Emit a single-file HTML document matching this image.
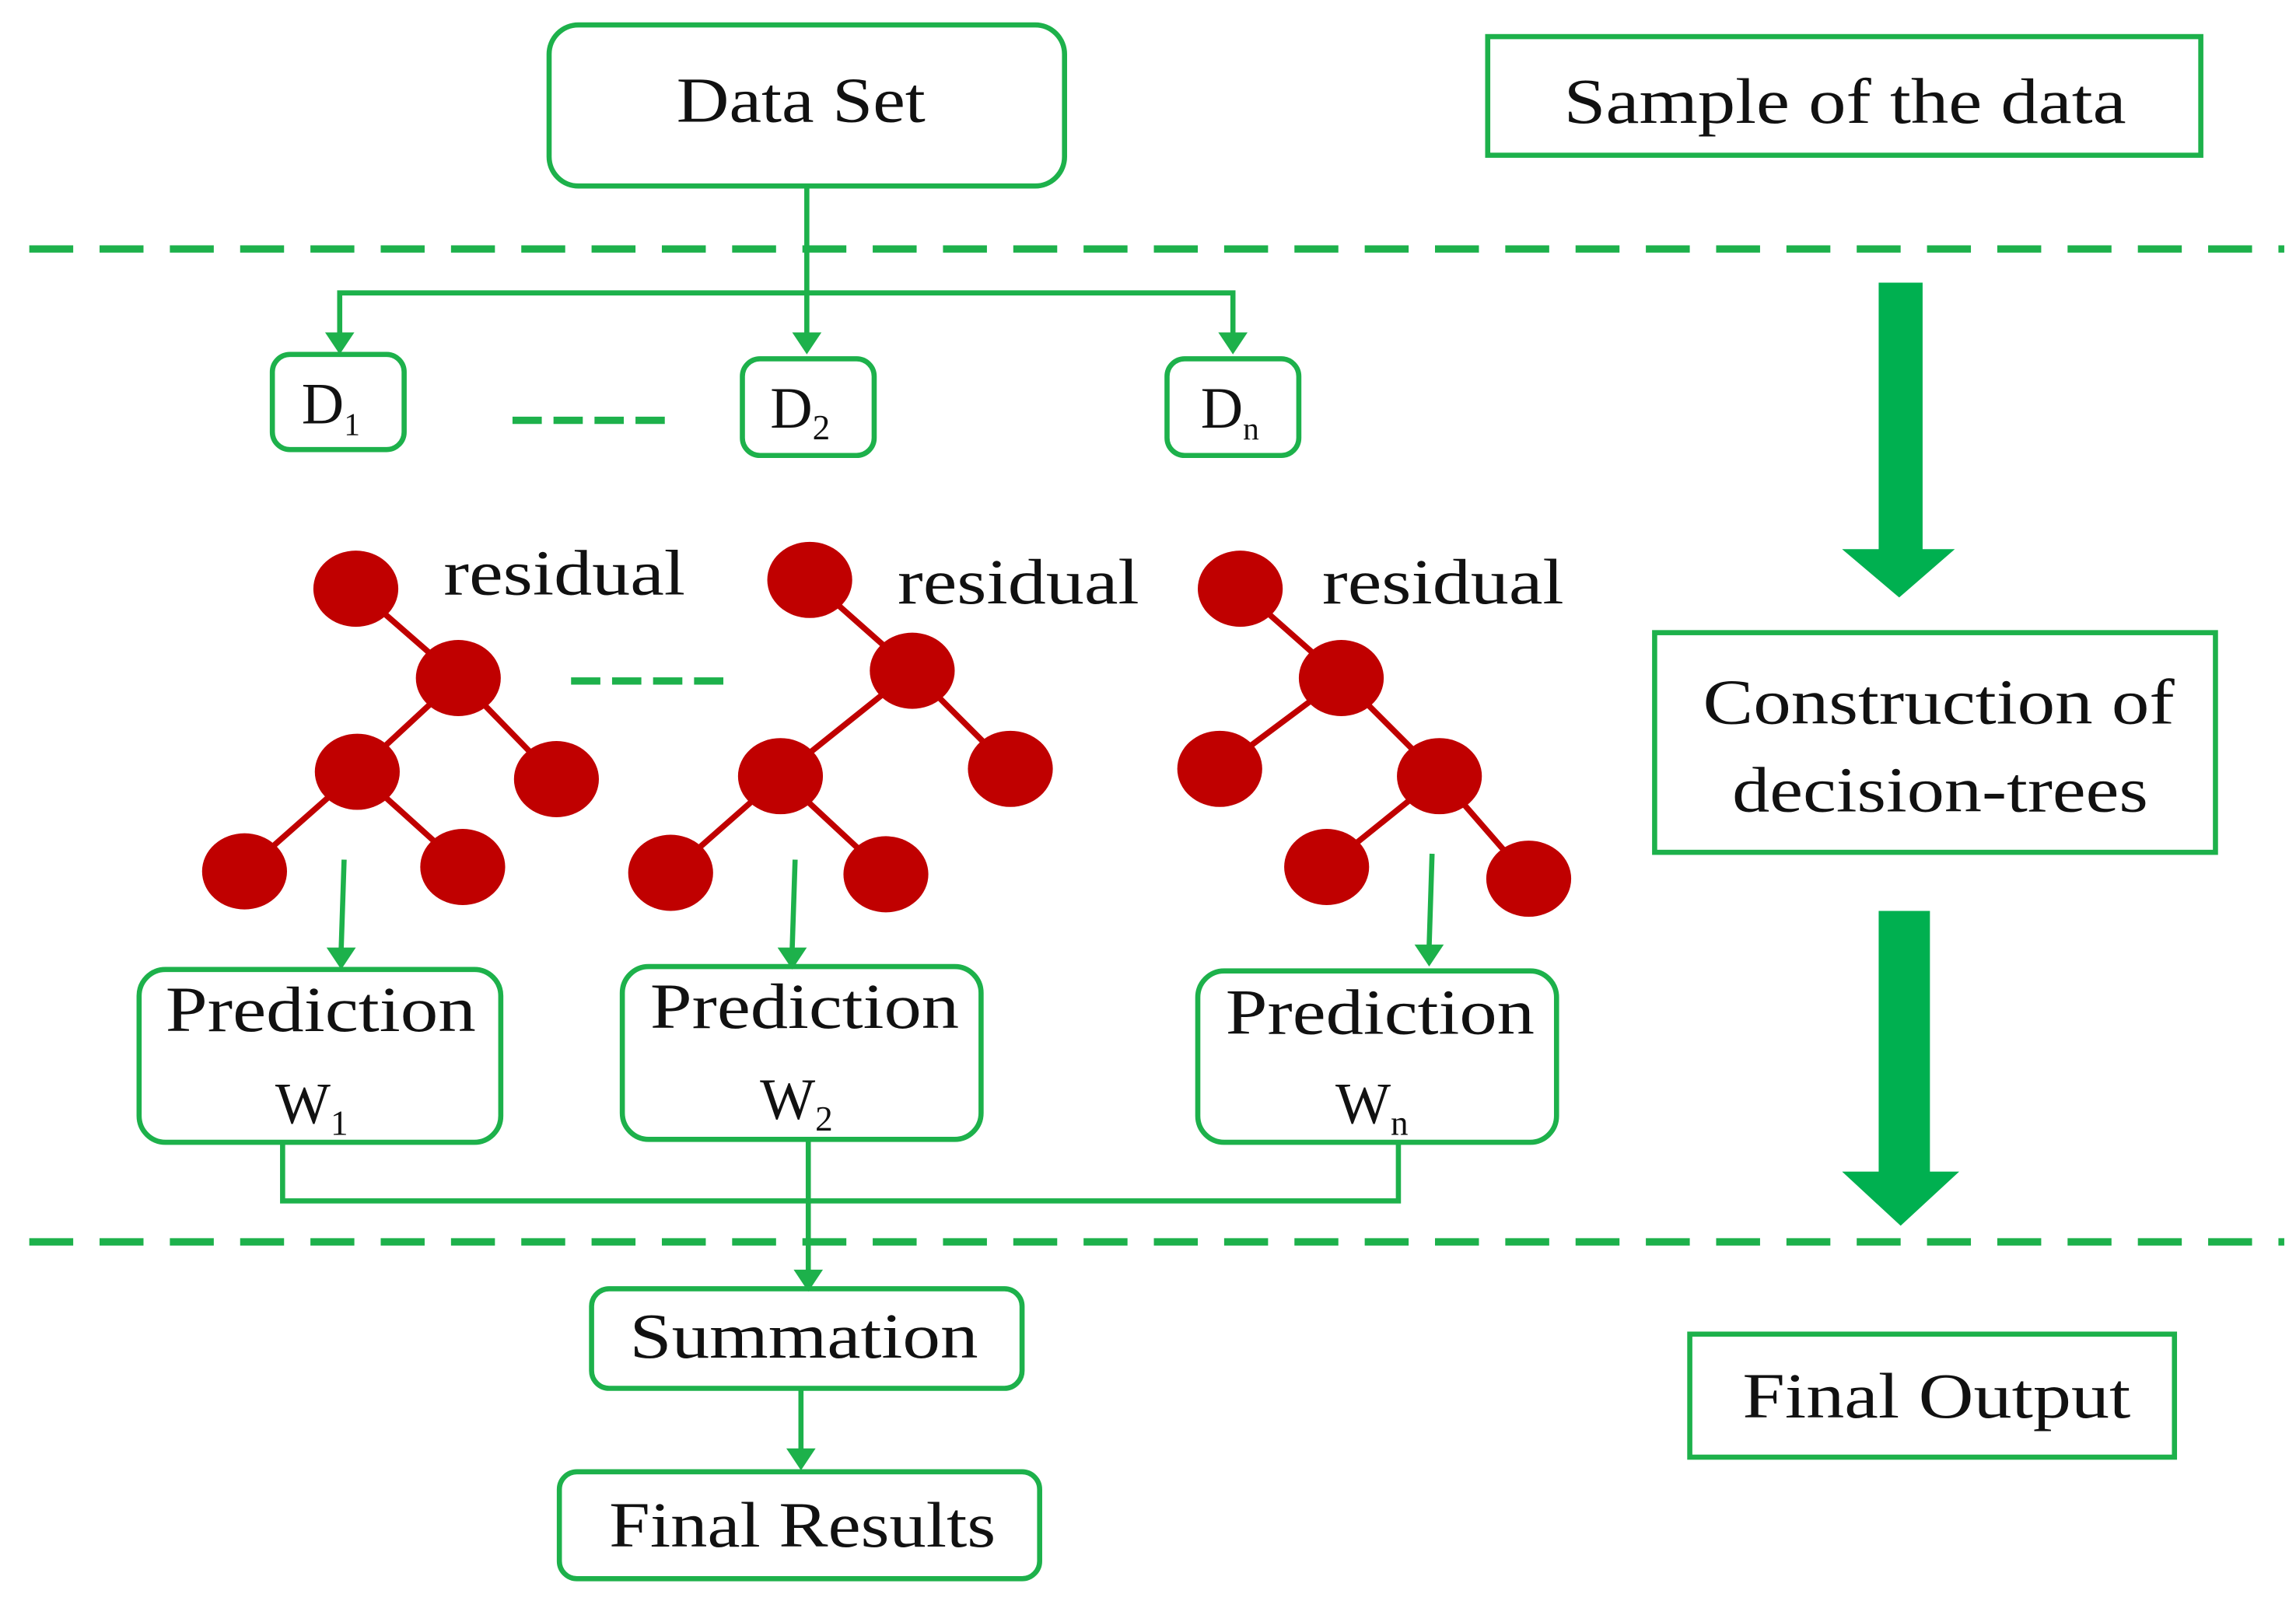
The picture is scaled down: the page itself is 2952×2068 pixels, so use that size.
<!DOCTYPE html>
<html><head><meta charset="utf-8"><style>
html,body{margin:0;padding:0;background:#fff;}
svg{display:block;}
text{font-family:"Liberation Serif",serif;fill:#111;}
</style></head><body>
<svg width="2952" height="2068" viewBox="0 0 1568 1098" preserveAspectRatio="none" xmlns="http://www.w3.org/2000/svg">
<g fill="none" stroke="#1db14b" stroke-width="3.5">
<rect x="375" y="17" width="352" height="110" rx="20"/>
<rect x="1016" y="25" width="487" height="81"/>
<rect x="186" y="242" width="90" height="65" rx="12"/>
<rect x="507" y="245" width="90" height="66" rx="12"/>
<rect x="797" y="245" width="90" height="66" rx="12"/>
<rect x="1130" y="432" width="383" height="150"/>
<rect x="95" y="662" width="247" height="118" rx="18"/>
<rect x="425" y="660" width="245" height="118" rx="18"/>
<rect x="818" y="663" width="245" height="117" rx="18"/>
<rect x="404" y="880" width="294" height="68" rx="12"/>
<rect x="382" y="1005" width="328" height="73" rx="12"/>
<rect x="1154" y="911" width="331" height="84"/>
<path d="M551 127V228 M232 228V200H842V228"/>
<path d="M193 780V820H955V780 M552 778V868"/>
<path d="M547 948V992"/>
<path d="M235 587L233 648 M543 587L541 648 M978 583L976 646"/>
</g>
<g fill="#1db14b">
<path d="M551 242l-10-15h20z M232 242l-10-15h20z M842 242l-10-15h20z"/>
<path d="M552 882l-10-15h20z M547 1004l-10-15h20z"/>
<path d="M233 662l-10-15h20z M541 662l-10-15h20z M976 660l-10-15h20z"/>
</g>
<g stroke="#1db14b" stroke-width="5" stroke-dasharray="30 18">
<line x1="20" y1="170" x2="1560" y2="170"/>
<line x1="20" y1="848" x2="1560" y2="848"/>
</g>
<g stroke="#1db14b" stroke-width="5" stroke-dasharray="20 8">
<line x1="350" y1="287" x2="456" y2="287"/>
<line x1="390" y1="465" x2="496" y2="465"/>
</g>
<g fill="#00b050">
<path d="M1283 193h30v182h22l-38 33l-39-33h25z"/>
<path d="M1283 622h35v178h20l-40 37l-40-37h25z"/>
</g>
<g stroke="#c00000" stroke-width="4" fill="none">
<path d="M243 402L313 463L244 527L167 595 M313 463L380 532 M244 527L316 592"/>
<path d="M553 396L623 458L533 530L458 596 M623 458L690 525 M533 530L605 597"/>
<path d="M847 402L916 463L833 525 M916 463L983 530L906 592 M983 530L1044 600"/>
</g>
<g fill="#c00000">
<ellipse cx="243" cy="402" rx="29" ry="26"/><ellipse cx="313" cy="463" rx="29" ry="26"/><ellipse cx="244" cy="527" rx="29" ry="26"/><ellipse cx="380" cy="532" rx="29" ry="26"/><ellipse cx="167" cy="595" rx="29" ry="26"/><ellipse cx="316" cy="592" rx="29" ry="26"/>
<ellipse cx="553" cy="396" rx="29" ry="26"/><ellipse cx="623" cy="458" rx="29" ry="26"/><ellipse cx="533" cy="530" rx="29" ry="26"/><ellipse cx="690" cy="525" rx="29" ry="26"/><ellipse cx="458" cy="596" rx="29" ry="26"/><ellipse cx="605" cy="597" rx="29" ry="26"/>
<ellipse cx="847" cy="402" rx="29" ry="26"/><ellipse cx="916" cy="463" rx="29" ry="26"/><ellipse cx="833" cy="525" rx="29" ry="26"/><ellipse cx="983" cy="530" rx="29" ry="26"/><ellipse cx="906" cy="592" rx="29" ry="26"/><ellipse cx="1044" cy="600" rx="29" ry="26"/>
</g>
<g font-size="44" lengthAdjust="spacingAndGlyphs">
<text x="462" y="83" textLength="170" lengthAdjust="spacingAndGlyphs">Data Set</text>
<text x="1068" y="84" textLength="384" lengthAdjust="spacingAndGlyphs">Sample of the data</text>
<text x="1163" y="494" textLength="322" lengthAdjust="spacingAndGlyphs">Construction of</text>
<text x="1183" y="554" textLength="284" lengthAdjust="spacingAndGlyphs">decision-trees</text>
<text x="113" y="704" textLength="212" lengthAdjust="spacingAndGlyphs">Prediction</text>
<text x="444" y="702" textLength="211" lengthAdjust="spacingAndGlyphs">Prediction</text>
<text x="837" y="706" textLength="211" lengthAdjust="spacingAndGlyphs">Prediction</text>
<text x="430" y="927" textLength="238" lengthAdjust="spacingAndGlyphs">Summation</text>
<text x="416" y="1056" textLength="264" lengthAdjust="spacingAndGlyphs">Final Results</text>
<text x="1190" y="968" textLength="265" lengthAdjust="spacingAndGlyphs">Final Output</text>
<text x="303" y="406" textLength="165" lengthAdjust="spacingAndGlyphs">residual</text>
<text x="613" y="412" textLength="165" lengthAdjust="spacingAndGlyphs">residual</text>
<text x="903" y="412" textLength="165" lengthAdjust="spacingAndGlyphs">residual</text>
</g>
<g font-size="40">
<text x="206" y="289">D<tspan font-size="22" dy="8">1</tspan></text>
<text x="526" y="292">D<tspan font-size="24" dy="8">2</tspan></text>
<text x="820" y="292">D<tspan font-size="22" dy="8">n</tspan></text>
<text x="188" y="767">W<tspan font-size="24" dy="8">1</tspan></text>
<text x="519" y="764">W<tspan font-size="24" dy="8">2</tspan></text>
<text x="912" y="767">W<tspan font-size="24" dy="8">n</tspan></text>
</g>
</svg>
</body></html>
